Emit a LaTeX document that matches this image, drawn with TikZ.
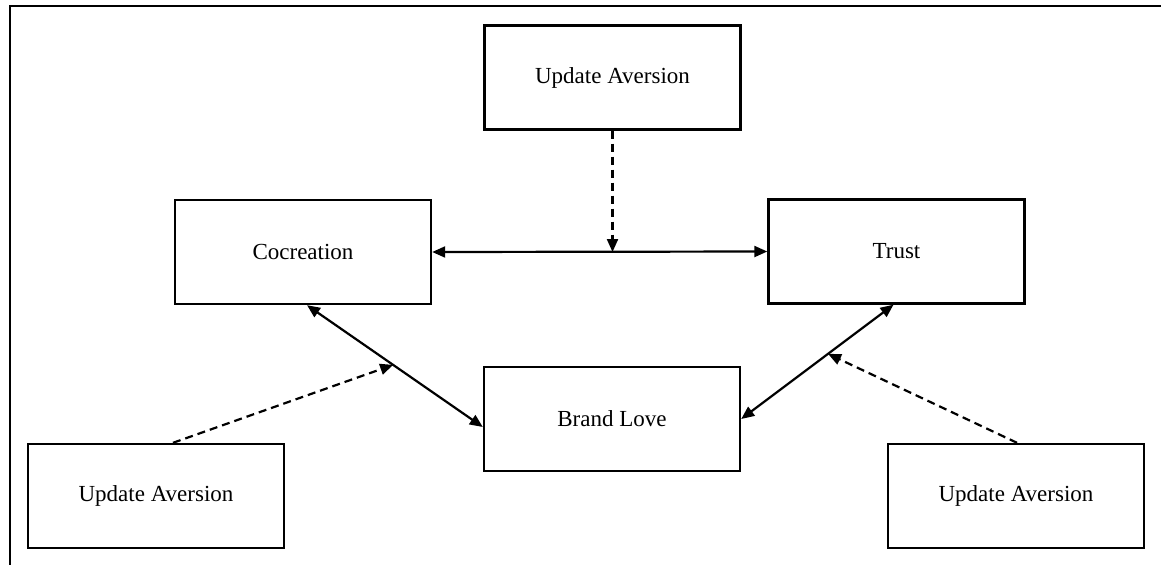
\documentclass[tikz,border=0pt]{standalone}
\usepackage{fontspec}
\setmainfont{Liberation Serif}
\usetikzlibrary{arrows.meta,calc}
\begin{document}
\begin{tikzpicture}[x=1pt,y=-1pt,
  box/.style={draw,line width=2.4pt,minimum width=256pt,minimum height=104pt,inner sep=0pt,font=\fontsize{23}{27}\selectfont},
  link/.style={line width=2.2pt,{Triangle[length=13pt,width=11pt]}-{Triangle[length=13pt,width=11pt]}},
  mod/.style={line width=2.2pt,dash pattern=on 8pt off 5pt,-{Triangle[length=13pt,width=11pt]}}]
\useasboundingbox (0,0) rectangle (1161,565);
\draw[line width=2.4pt] (1161,6) -- (10,6) -- (10,565);
\node[box] (top) at (612.5,77.5) {Update Aversion};
\node[box] (coc) at (303,252) {Cocreation};
\node[box] (trust) at (896.5,251.5) {Trust};
\node[box] (bl) at (612,419) {Brand Love};
\node[box] (ula) at (156,496) {Update Aversion};
\node[box] (ura) at (1016,496) {Update Aversion};
\draw[link] (coc.east) -- (trust.west);
\coordinate (m1) at (612.5,252);
\draw[mod] (top.south) -- (m1);
\coordinate (p1) at ([xshift=4pt]coc.south);
\coordinate (p2) at ([yshift=-8pt]bl.west);
\draw[link] (p1) -- (p2);
\coordinate (m2) at ($(p1)!0.49!(p2)$);
\draw[mod] ([xshift=17pt]ula.north) -- (m2);
\coordinate (q1) at ([xshift=-3pt]trust.south);
\coordinate (q2) at (bl.east);
\draw[link] (q1) -- (q2);
\coordinate (m3) at ($(q1)!0.43!(q2)$);
\draw[mod] ([xshift=1pt]ura.north) -- (m3);
\end{tikzpicture}
\end{document}
